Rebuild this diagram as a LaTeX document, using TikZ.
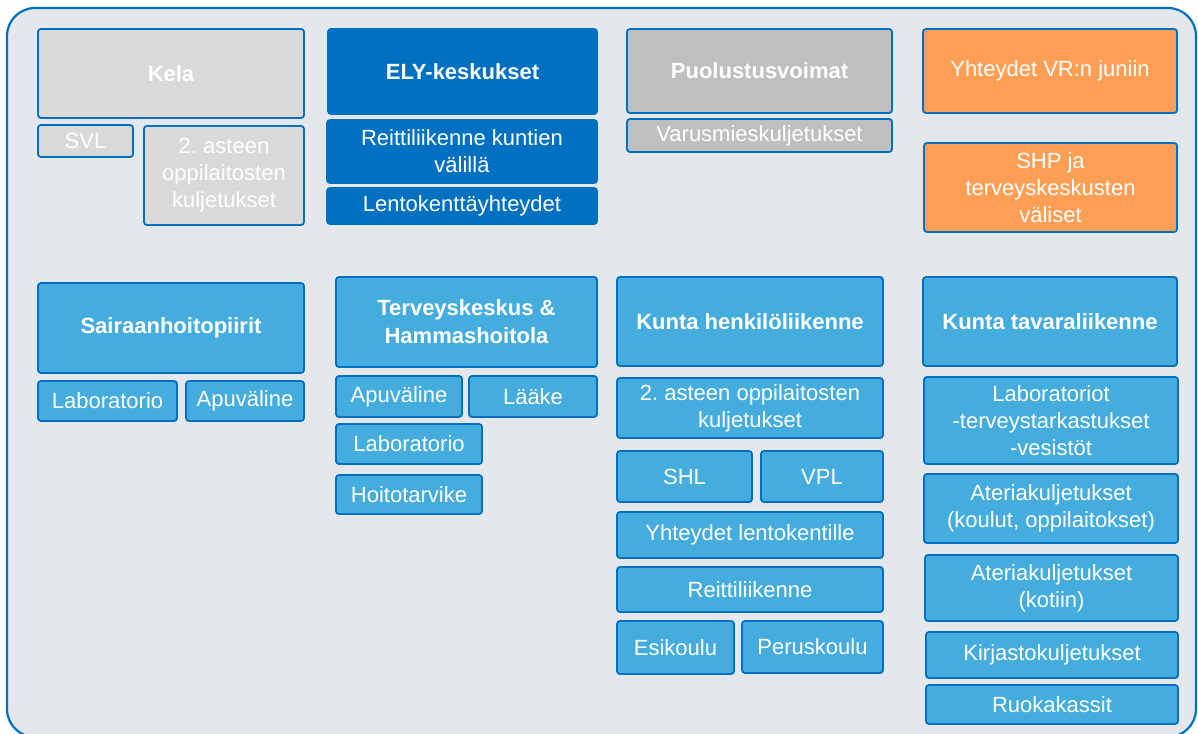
\documentclass[tikz,border=0pt]{standalone}
\usepackage{fontspec}
\setmainfont{Liberation Sans}
\usepackage{tikz}
\usetikzlibrary{positioning}
\frenchspacing

\definecolor{frameblue}{HTML}{0070C0}
\definecolor{panelgray}{HTML}{E4E8EC}
\definecolor{lightblue}{HTML}{44ADDE}
\definecolor{kelagray}{HTML}{D9D9D9}
\definecolor{pvgray}{HTML}{BFBFBF}
\definecolor{vrorange}{HTML}{FF9F55}

\begin{document}
\begin{tikzpicture}[
                        x=0.5pt, y=-0.5pt,
                        every node/.style={rectangle, draw=frameblue, line width=0.9pt, rounded corners=1.5pt,
                          align=center, text=white, inner sep=1pt,
                          font=\fontsize{11}{13.5}\selectfont},
                        lbox/.style={fill=lightblue},
                        dbox/.style={fill=frameblue},
                        kbox/.style={fill=kelagray},
                        pbox/.style={fill=pvgray},
                        obox/.style={fill=vrorange},
                        head/.style={font=\fontsize{11}{14}\selectfont\bfseries}
                        ]
  \clip (0,0) rectangle (1198,733);
  \draw[frameblue, fill=panelgray, line width=1.1pt, rounded corners=14pt] (7,8) rectangle (1196,737);

  % Kela
  \node[kbox, head, minimum width=133pt, minimum height=44.5pt] (kela) at (171,73.5) {Kela};
  \node[kbox, minimum width=47.5pt, minimum height=16pt] (svl) at (85.5,141) {SVL};
  \node[kbox, minimum width=80pt, minimum height=49.5pt] (kelaasteen) at (224,175.5) {2. asteen\\oppilaitosten\\kuljetukset};

  % ELY
  \node[dbox, head, minimum width=134.5pt, minimum height=42.5pt] (ely) at (462.5,71.5) {ELY-keskukset};
  \node[dbox, minimum width=135pt, minimum height=31.5pt] (elyreitti) at (462,151.5) {Reittiliikenne kuntien\\välillä};
  \node[dbox, minimum width=135pt, minimum height=18pt] (elylento) at (462,206) {Lentokenttäyhteydet};

  % Puolustusvoimat
  \node[pbox, head, minimum width=132.5pt, minimum height=42pt] (pv) at (759.5,71) {Puolustusvoimat};
  \node[pbox, minimum width=132.5pt, minimum height=16.5pt] (varus) at (759.5,135.5) {Varusmieskuljetukset};

  % VR / SHP
  \node[obox, minimum width=127pt, minimum height=42pt] (vr) at (1050,71) {Yhteydet VR:n juniin};
  \node[obox, minimum width=126.5pt, minimum height=44.5pt] (shp) at (1050.5,187.5) {SHP ja\\terveyskeskusten\\väliset};

  % Sairaanhoitopiirit
  \node[lbox, head, minimum width=133pt, minimum height=45pt] (shpiiri) at (171,328) {Sairaanhoitopiirit};
  \node[lbox, minimum width=69.5pt, minimum height=20pt] (shplab) at (107.5,401) {Laboratorio};
  \node[lbox, minimum width=59pt, minimum height=20pt] (shpapu) at (245,401) {Apuväline};

  % Terveyskeskus
  \node[lbox, head, minimum width=130.5pt, minimum height=45pt] (terv) at (466.5,322) {Terveyskeskus \&\\Hammashoitola};
  \node[lbox, minimum width=63pt, minimum height=20.5pt] (tervapu) at (399,396.5) {Apuväline};
  \node[lbox, minimum width=64pt, minimum height=20.5pt] (laake) at (533,396.5) {Lääke};
  \node[lbox, minimum width=73pt, minimum height=20pt] (tervlab) at (409,444) {Laboratorio};
  \node[lbox, minimum width=73pt, minimum height=19.5pt] (hoito) at (409,494.5) {Hoitotarvike};

  % Kunta henkilöliikenne
  \node[lbox, head, minimum width=133pt, minimum height=44.5pt] (khenk) at (750,321.5) {Kunta henkilöliikenne};
  \node[lbox, minimum width=133pt, minimum height=30pt] (kasteen) at (750,408) {2. asteen oppilaitosten\\kuljetukset};
  \node[lbox, minimum width=67.5pt, minimum height=25.5pt] (shl) at (684.5,476.5) {SHL};
  \node[lbox, minimum width=61pt, minimum height=25.5pt] (vpl) at (822,476.5) {VPL};
  \node[lbox, minimum width=133pt, minimum height=23pt] (klento) at (750,535) {Yhteydet lentokentille};
  \node[lbox, minimum width=133pt, minimum height=22.5pt] (kreitti) at (750,589.5) {Reittiliikenne};
  \node[lbox, minimum width=58.5pt, minimum height=26.5pt] (esi) at (675.5,647.5) {Esikoulu};
  \node[lbox, minimum width=70.5pt, minimum height=26pt] (perus) at (812.5,647) {Peruskoulu};

  % Kunta tavaraliikenne
  \node[lbox, head, minimum width=127pt, minimum height=44.5pt] (ktava) at (1050,321.5) {Kunta tavaraliikenne};
  \node[lbox, minimum width=127pt, minimum height=43.5pt] (labt) at (1051,420.5) {Laboratoriot\\-terveystarkastukset\\-vesistöt};
  \node[lbox, minimum width=127pt, minimum height=34.5pt] (ateria) at (1051,508.5) {Ateriakuljetukset\\(koulut, oppilaitokset)};
  \node[lbox, minimum width=126.5pt, minimum height=33pt] (kotiin) at (1051.5,588) {Ateriakuljetukset\\(kotiin)};
  \node[lbox, minimum width=126pt, minimum height=23pt] (kirja) at (1052,655) {Kirjastokuljetukset};
  \node[lbox, minimum width=126pt, minimum height=19.5pt] (ruoka) at (1052,704.5) {Ruokakassit};
\end{tikzpicture}
\end{document}
